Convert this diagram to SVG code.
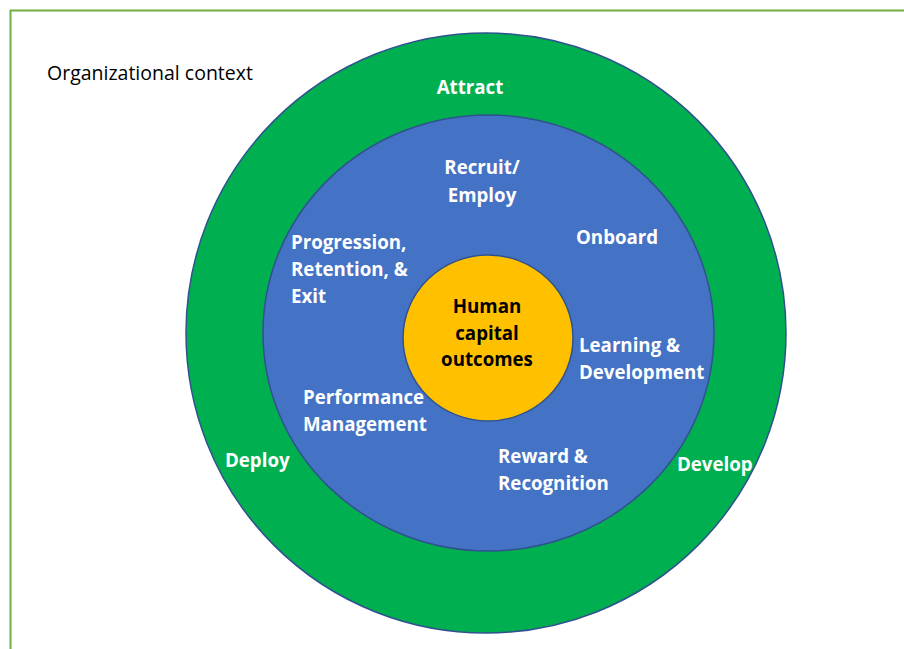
<svg xmlns="http://www.w3.org/2000/svg" width="904" height="649" viewBox="0 0 904 649">
<style>
.lbl{font-family:"Open Sans","Liberation Sans",sans-serif;font-weight:bold;font-size:18.7px;fill:#fff}
.ctr{font-family:"Open Sans","Liberation Sans",sans-serif;font-weight:bold;font-size:18.7px;fill:#000}
.ring{stroke:#2F528F;stroke-width:1.5}
</style>
<rect x="0" y="0" width="904" height="649" fill="#fff"/>
<g id="frame">
<path d="M10.5,649 V10.5 H904" fill="none" stroke="#70AD47" stroke-width="2"/>
<text x="47" y="80" font-family="Open Sans, Liberation Sans, sans-serif" font-size="19.5" fill="#000">Organizational context</text>
</g>
<g id="outer">
<circle class="ring" cx="486" cy="333" r="300" fill="#00B050"/>
<text class="lbl" x="470" y="94" text-anchor="middle">Attract</text>
<text class="lbl" x="225" y="467">Deploy</text>
<text class="lbl" x="677" y="471">Develop</text>
</g>
<g id="middle">
<ellipse class="ring" cx="488.5" cy="333" rx="225.5" ry="218" fill="#4472C4"/>
<text class="lbl" x="482" y="174" text-anchor="middle">Recruit/</text>
<text class="lbl" x="482" y="202" text-anchor="middle">Employ</text>
<text class="lbl" x="576" y="244">Onboard</text>
<text class="lbl" x="291" y="249">Progression,</text>
<text class="lbl" x="291" y="276">Retention, &amp;</text>
<text class="lbl" x="291" y="303">Exit</text>
<text class="lbl" x="579" y="352">Learning &amp;</text>
<text class="lbl" x="579" y="379">Development</text>
<text class="lbl" x="303" y="404">Performance</text>
<text class="lbl" x="303" y="431">Management</text>
<text class="lbl" x="498" y="463">Reward &amp;</text>
<text class="lbl" x="498" y="490">Recognition</text>
</g>
<g id="core">
<ellipse class="ring" cx="488" cy="338" rx="85" ry="83" fill="#FFC000"/>
<text class="ctr" x="487" y="313" text-anchor="middle">Human</text>
<text class="ctr" x="487" y="340" text-anchor="middle">capital</text>
<text class="ctr" x="487" y="366" text-anchor="middle">outcomes</text>
</g>
<g id="connectors"></g>
</svg>
